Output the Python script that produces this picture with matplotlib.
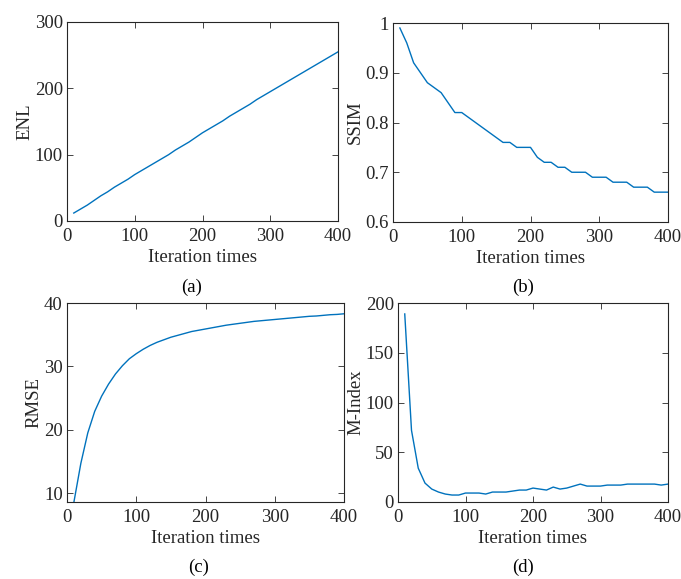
import matplotlib
matplotlib.use('Agg')
import matplotlib.pyplot as plt
import numpy as np

iters = np.arange(10, 410, 10)

enl = [12, 18, 24, 31, 38, 44, 51, 57, 63, 70,
       76, 82, 88, 94, 100, 107, 113, 119, 126, 133,
       139, 145, 151, 158, 164, 170, 176, 183, 189, 195,
       201, 207, 213, 219, 225, 231, 237, 243, 249, 255]

ssim = [0.99, 0.96, 0.92, 0.90, 0.88, 0.87, 0.86, 0.84, 0.82, 0.82,
        0.81, 0.80, 0.79, 0.78, 0.77, 0.76, 0.76, 0.75, 0.75, 0.75,
        0.73, 0.72, 0.72, 0.71, 0.71, 0.70, 0.70, 0.70, 0.69, 0.69,
        0.69, 0.68, 0.68, 0.68, 0.67, 0.67, 0.67, 0.66, 0.66, 0.66]

rmse = [8.6, 14.7, 19.5, 22.9, 25.3, 27.2, 28.8, 30.1, 31.2, 32.0,
        32.7, 33.3, 33.8, 34.2, 34.6, 34.9, 35.2, 35.5, 35.7, 35.9,
        36.1, 36.3, 36.5, 36.65, 36.8, 36.95, 37.1, 37.2, 37.3, 37.4,
        37.5, 37.6, 37.7, 37.8, 37.9, 37.95, 38.05, 38.15, 38.2, 38.3]

mindex = [189, 72, 34, 19, 13, 10, 8, 7, 7, 9,
          9, 9, 8, 10, 10, 10, 11, 12, 12, 14,
          13, 12, 15, 13, 14, 16, 18, 16, 16, 16,
          17, 17, 17, 18, 18, 18, 18, 18, 17, 18]

plt.rcParams['font.family'] = 'Liberation Serif'
plt.rcParams['font.size'] = 13.5
txt = '#262626'
blue = '#0072BD'

fig = plt.figure(figsize=(6.81, 5.79), dpi=100)
W, H = 681, 579

def make_ax(l, t, r, b):
    return fig.add_axes([l / W, 1 - b / H, (r - l) / W, (b - t) / H])

panels = [
    (make_ax(67, 22, 338, 221), enl, 'ENL', (0, 300), [0, 100, 200, 300], ['0', '100', '200', '300'], '(a)', 192, 287),
    (make_ax(393, 23, 668, 222), ssim, 'SSIM', (0.6, 1.0), [0.6, 0.7, 0.8, 0.9, 1.0], ['0.6', '0.7', '0.8', '0.9', '1'], '(b)', 523, 287),
    (make_ax(67, 303, 344, 502), rmse, 'RMSE', (8.6, 40), [10, 20, 30, 40], ['10', '20', '30', '40'], '(c)', 199, 567),
    (make_ax(398, 303, 668, 502), mindex, 'M-Index', (0, 200), [0, 50, 100, 150, 200], ['0', '50', '100', '150', '200'], '(d)', 523, 567),
]

for ax, vals, name, ylim, yt, ytl, cap, cx, cy in panels:
    ax.plot(iters, vals, color=blue, lw=1.0)
    ax.set_xlim(0, 400)
    ax.set_ylim(*ylim)
    ax.set_xticks([0, 100, 200, 300, 400])
    ax.set_yticks(yt)
    ax.set_yticklabels(ytl)
    ax.tick_params(direction='in', top=True, right=True, length=4, width=0.6,
                   colors=txt, labelcolor=txt)
    ax.tick_params(axis='x', pad=5)
    ax.tick_params(axis='y', pad=3)
    for sp in ax.spines.values():
        sp.set_color(txt)
        sp.set_linewidth(0.8)
    ax.set_xlabel('Iteration times', color=txt, labelpad=3)
    ax.set_ylabel(name, color=txt, labelpad=1)
    fig.text(cx / W, 1 - cy / H, cap, ha='center', va='center', color='black', fontsize=13.5)

fig.savefig('out.png', dpi=100)
